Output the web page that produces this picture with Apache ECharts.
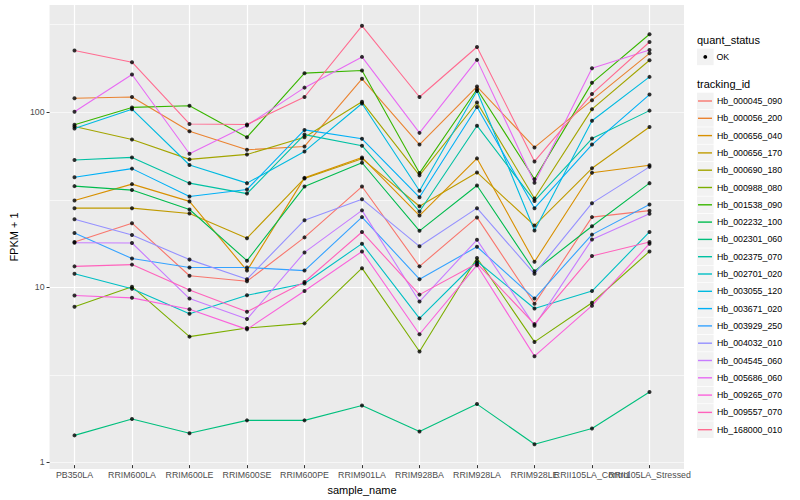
<!DOCTYPE html>
<html><head><meta charset="utf-8">
<script src="https://cdn.jsdelivr.net/npm/echarts@6/dist/echarts.min.js"></script>
<style>html,body{margin:0;padding:0;background:#fff}#c{width:800px;height:500px}</style>
</head><body><div id="c"></div>
<script>
// ---------- data ----------
const samples = ['PB350LA','RRIM600LA','RRIM600LE','RRIM600SE','RRIM600PE','RRIM901LA','RRIM928BA','RRIM928LA','RRIM928LE','RRII105LA_Control','RRII105LA_Stressed'];
const yTicks = [1, 10, 100];
const yMin = 0.917, yMax = 410;

const Hb_000045_090 = [17.7, 22.7, 11.3, 10.5, 18.8, 36.9, 12.8, 24.5, 7.8, 24.6, 26.8];
const Hb_000056_200 = [119, 121, 76.9, 60.1, 62.8, 154, 64.4, 139, 62, 116, 216];
const Hb_000656_040 = [30.7, 38.1, 30.3, 12.1, 41.4, 54.3, 25.1, 53.6, 13.6, 44.3, 48.9];
const Hb_000656_170 = [27.7, 27.7, 25.8, 18.6, 41.1, 53.4, 28.4, 44.5, 22.0, 47.0, 81.3];
const Hb_000690_180 = [81.9, 68.8, 52.9, 56.5, 71.0, 113.5, 42.8, 112.5, 31.5, 103, 197];
const Hb_000988_080 = [7.5, 9.78, 5.04, 5.65, 6.01, 12.5, 4.14, 14.3, 4.70, 7.9, 15.6];
const Hb_001538_090 = [83.8, 105.4, 107.7, 71.0, 166, 172, 44.1, 134, 40.7, 146, 278];
const Hb_002232_100 = [37.1, 35.2, 27.2, 13.8, 36.9, 50.6, 20.5, 37.4, 12.0, 21.8, 38.6];
const Hb_002301_060 = [1.36, 1.69, 1.40, 1.66, 1.66, 2.02, 1.43, 2.06, 1.21, 1.49, 2.42];
const Hb_002375_070 = [52.5, 54.3, 38.6, 33.6, 73.5, 63.4, 26.5, 82.7, 30.5, 69.7, 101];
const Hb_002701_020 = [11.6, 9.52, 6.83, 8.72, 10.2, 17.3, 6.42, 13.7, 7.32, 9.23, 20.2];
const Hb_003055_120 = [79.6, 103, 49.1, 38.6, 58.8, 111, 34.9, 131, 20.6, 88.3, 158];
const Hb_003671_020 = [41.7, 46.8, 32.3, 35.5, 78.2, 69.5, 32.0, 106, 27.7, 64.4, 125];
const Hb_003929_250 = [19.9, 14.2, 12.6, 12.6, 12.1, 24.6, 10.8, 16.6, 8.35, 19.5, 29.1];
const Hb_004032_010 = [23.9, 19.4, 14.0, 10.8, 23.6, 31.2, 16.7, 27.7, 11.6, 29.6, 47.9];
const Hb_004545_060 = [17.5, 17.45, 8.35, 6.36, 15.4, 26.9, 8.03, 18.2, 5.83, 18.3, 25.7];
const Hb_005686_060 = [99.6, 163, 57.0, 83, 137, 206, 75.2, 198, 38.8, 177, 226];
const Hb_009265_070 = [8.7, 8.43, 7.25, 5.55, 9.24, 15.6, 5.2, 13.0, 3.89, 7.6, 17.3];
const Hb_009557_070 = [12.8, 13.1, 9.36, 7.01, 10.4, 20.2, 8.8, 13.3, 5.95, 14.7, 17.7];
const Hb_168000_010 = [224, 192, 84.6, 84, 121, 311, 121, 235, 51.5, 126, 251];

const trackingIds = ['Hb_000045_090','Hb_000056_200','Hb_000656_040','Hb_000656_170','Hb_000690_180','Hb_000988_080','Hb_001538_090','Hb_002232_100','Hb_002301_060','Hb_002375_070','Hb_002701_020','Hb_003055_120','Hb_003671_020','Hb_003929_250','Hb_004032_010','Hb_004545_060','Hb_005686_060','Hb_009265_070','Hb_009557_070','Hb_168000_010'];
const trackingValues = [Hb_000045_090, Hb_000056_200, Hb_000656_040, Hb_000656_170, Hb_000690_180, Hb_000988_080, Hb_001538_090, Hb_002232_100, Hb_002301_060, Hb_002375_070, Hb_002701_020, Hb_003055_120, Hb_003671_020, Hb_003929_250, Hb_004032_010, Hb_004545_060, Hb_005686_060, Hb_009265_070, Hb_009557_070, Hb_168000_010];
const hueColors = ['#F8766D','#EA8331','#D89000','#C09B00','#A3A500','#7CAE00','#39B600','#00BB4E','#00BF7D','#00C1A3','#00BFC4','#00BAE0','#00B0F6','#35A2FF','#9590FF','#C77CFF','#E76BF3','#FA62DB','#FF62BC','#FF6C91'];

// ---------- chart ----------
const FONT = '"Liberation Sans", Arial, Helvetica, sans-serif';
const chart = echarts.init(document.getElementById('c'), null, {renderer: 'svg'});

const series = [];
trackingIds.forEach((id, i) => {
  series.push({
    type: 'line', name: id, xAxisIndex: 1, yAxisIndex: 2,
    data: trackingValues[i], symbol: 'none', silent: true,
    lineStyle: {color: hueColors[i], width: 1.1},
    itemStyle: {color: hueColors[i]}, z: 3
  });
});
trackingIds.forEach((id, i) => {
  series.push({
    type: 'scatter', name: 'OK', xAxisIndex: 1, yAxisIndex: 2,
    data: trackingValues[i], symbol: 'circle', symbolSize: 4, silent: true,
    itemStyle: {color: '#000'}, z: 5
  });
});

const LEG_TOP = 92.35, ROW = 17.3, LEG_X = 697;
const graphics = [
  {type: 'text', left: LEG_X, top: 34, style: {text: 'quant_status', fontSize: 11, fontFamily: FONT, fill: '#000'}},
  {type: 'rect', shape: {x: LEG_X, y: 48.6, width: 16.6, height: 16.6}, style: {fill: '#F2F2F2'}, z: 0},
  {type: 'circle', shape: {cx: LEG_X + 8.3, cy: 56.9, r: 1.9}, style: {fill: '#000'}, z: 1},
  {type: 'text', left: 716.5, top: 52.4, style: {text: 'OK', fontSize: 8.8, fontFamily: FONT, fill: '#000'}},
  {type: 'text', left: LEG_X, top: 78, style: {text: 'tracking_id', fontSize: 11, fontFamily: FONT, fill: '#000'}}
];
trackingIds.forEach((id, i) => {
  graphics.push({type: 'rect', shape: {x: LEG_X, y: LEG_TOP + i * ROW + 0.35, width: 16.6, height: 16.6}, style: {fill: '#F2F2F2'}, z: 0});
});

chart.setOption({
  animation: false,
  backgroundColor: '#fff',
  textStyle: {fontFamily: FONT},
  grid: [
    {left: 40, right: 116, top: 5, bottom: 31, show: true, backgroundColor: '#EBEBEB', borderWidth: 0, containLabel: false},
    {left: 74.5, right: 150.5, top: 5, bottom: 31, show: false, containLabel: false}
  ],
  xAxis: [
    {gridIndex: 0, type: 'value', min: 0, max: 1, show: false},
    {gridIndex: 1, type: 'category', data: samples, boundaryGap: false,
     axisLine: {show: false},
     axisTick: {show: true, length: 3, alignWithLabel: true, lineStyle: {color: '#333', width: 1}},
     axisLabel: {interval: 0, hideOverlap: false, color: '#4D4D4D', fontSize: 8.8, fontFamily: FONT, margin: 5},
     splitLine: {show: true, lineStyle: {color: '#fff', width: 1.2}},
     name: 'sample_name', nameLocation: 'middle', nameGap: 14,
     nameTextStyle: {fontSize: 11, color: '#000', fontFamily: FONT, verticalAlign: 'top'}}
  ],
  yAxis: [
    {gridIndex: 0, type: 'log', min: yMin, max: yMax,
     axisLine: {show: false},
     axisTick: {show: true, length: 3, customValues: yTicks, lineStyle: {color: '#333', width: 1}},
     axisLabel: {customValues: yTicks, color: '#4D4D4D', fontSize: 8.8, fontFamily: FONT, margin: 5, formatter: v => String(v)},
     splitLine: {show: true, showMinLine: false, showMaxLine: false, lineStyle: {color: '#fff', width: 1.2}},
     name: 'FPKM + 1', nameLocation: 'middle', nameGap: 23, nameRotate: 90,
     nameTextStyle: {fontSize: 11, color: '#000', fontFamily: FONT}},
    {gridIndex: 0, type: 'value', min: Math.log10(yMin), max: Math.log10(yMax), position: 'left',
     axisLine: {show: false}, axisTick: {show: false}, axisLabel: {show: false},
     splitLine: {show: true, showMinLine: false, showMaxLine: false, lineStyle: {color: '#fff', width: 0.6}}},
    {gridIndex: 1, type: 'log', min: yMin, max: yMax, show: false}
  ],
  legend: {
    orient: 'vertical', left: LEG_X + 1, top: LEG_TOP, padding: 0, itemGap: 0,
    itemWidth: 14, itemHeight: 1.4, icon: 'rect', selectedMode: false,
    textStyle: {fontSize: 8.8, fontFamily: FONT, color: '#000', lineHeight: ROW},
    data: trackingIds.map((n, i) => ({name: n, itemStyle: {color: hueColors[i]}}))
  },
  graphic: graphics,
  series: series
});
</script></body></html>
